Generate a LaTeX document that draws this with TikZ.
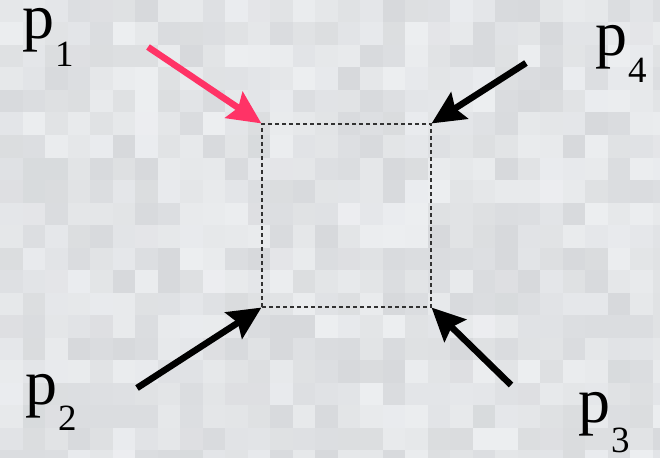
\documentclass[tikz,border=0pt]{standalone}
\usepackage{fontspec}
\setmainfont{Liberation Serif}
\usetikzlibrary{arrows.meta}
\definecolor{bgdark}{RGB}{206,208,211}
\definecolor{bglight}{RGB}{242,244,246}
\definecolor{arrowred}{RGB}{255,51,102}
\definecolor{boxline}{RGB}{50,50,50}
\newcommand{\subfnt}{\fontsize{37}{37}\selectfont}
\tikzset{
  lab/.style={anchor=base west, inner sep=0pt, text height=30pt, text depth=32pt,
              font=\fontsize{64}{64}\selectfont},
  momarrow/.style={line width=6.5pt, -{Stealth[length=33pt,width=31pt,inset=5pt]}},
  dbox/.style={draw=boxline, dash pattern=on 4pt off 3pt, line width=1.1pt,
               minimum width=169pt, minimum height=183pt, inner sep=0pt}
}
\begin{document}
\begin{tikzpicture}[x=1pt,y=-1pt]
\useasboundingbox (0,0) rectangle (660,457);
\begin{scope}
\clip (0,0) rectangle (660,457);
\fill[bgdark!50!bglight] (0,0) rectangle (660,457);
\pgfmathsetseed{11}
\foreach \i in {0,...,29}{
  \foreach \j in {0,...,20}{
    \pgfmathtruncatemacro\r{25+rnd*60}
    \fill[bglight!\r!bgdark] (\i*22.5,\j*22.5) rectangle +(22.6,22.6);
  }
}
\end{scope}
\node[dbox] (box) at (346.5,215.5) {};
\coordinate (s1) at (148,47);
\coordinate (s4) at (526,63);
\coordinate (s2) at (137,388);
\coordinate (s3) at (511,385);
\draw[momarrow, arrowred] (s1) -- (box.north west);
\draw[momarrow, black] (s4) -- (box.north east);
\draw[momarrow, black] (s2) -- (box.south west);
\draw[momarrow, black] (s3) -- (box.south east);
\node[lab] (l1) at (22,39) {p\kern1pt\lower28pt\hbox{\subfnt 1}};
\node[lab] (l4) at (595,56) {p\kern1pt\lower27pt\hbox{\subfnt 4}};
\node[lab] (l2) at (25,404) {p\kern1pt\lower26pt\hbox{\subfnt 2}};
\node[lab] (l3) at (578,422) {p\kern1pt\lower30pt\hbox{\subfnt 3}};
\end{tikzpicture}
\end{document}
